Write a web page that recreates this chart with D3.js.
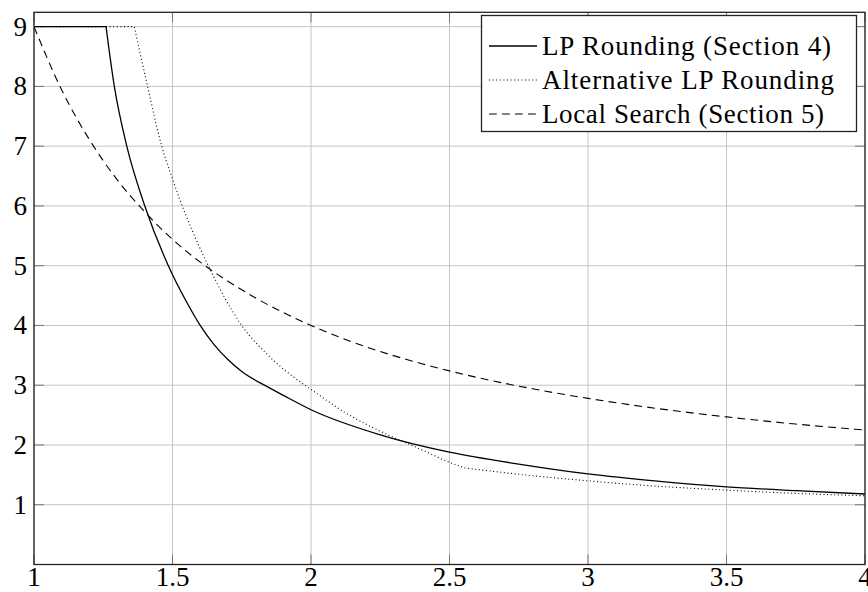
<!DOCTYPE html>
<html>
<head>
<meta charset="utf-8">
<script src="https://cdn.jsdelivr.net/npm/d3@7"></script>
<style>
  body { margin: 0; background: #fff; }
</style>
</head>
<body>
<div id="chart"></div>
<script>
// values
const lpX = [1, 1.26, 1.29, 1.335, 1.4, 1.485, 1.55, 1.6, 1.65, 1.7, 1.75, 1.816, 1.9, 2, 2.25, 2.5, 2.75, 3, 3.25, 3.5, 3.75, 4];
const lpY = [9, 9, 8, 7, 6, 5, 4.4, 4, 3.68, 3.43, 3.23, 3.04, 2.83, 2.59, 2.17, 1.88, 1.68, 1.515, 1.395, 1.3, 1.235, 1.18];
const lpBends = [1, 11];

const altX = [1, 1.362, 1.41, 1.461, 1.5, 1.527, 1.57, 1.629, 1.75, 1.85, 1.978, 2, 2.12, 2.25, 2.4, 2.5, 2.556, 2.75, 3, 3.25, 3.5, 3.75, 4];
const altY = [9, 9, 8, 7, 6.45, 6.1, 5.6, 5, 4, 3.48, 3, 2.93, 2.55, 2.23, 1.92, 1.71, 1.615, 1.51, 1.4, 1.31, 1.245, 1.19, 1.15];
const altBends = [1, 16];

const lsX = [1, 1.1, 1.2, 1.3, 1.4, 1.5, 1.6, 1.7, 1.8, 2, 2.2, 2.4, 2.6, 2.8, 3, 3.25, 3.5, 3.75, 4];
const lsY = [9, 7.94, 7.11, 6.44, 5.9, 5.44, 5.06, 4.74, 4.46, 4, 3.64, 3.36, 3.13, 2.94, 2.78, 2.61, 2.47, 2.35, 2.25];
const lsBends = [];

const xTicks = [1, 1.5, 2, 2.5, 3, 3.5, 4];
const yTicks = [1, 2, 3, 4, 5, 6, 7, 8, 9];

const series = [
    { name: "LP Rounding (Section 4)", xs: lpX, ys: lpY, bends: lpBends, dash: null, textW: 289 },
    { name: "Alternative LP Rounding", xs: altX, ys: altY, bends: altBends, dash: "1,2.6", textW: 292 },
    { name: "Local Search (Section 5)", xs: lsX, ys: lsY, bends: lsBends, dash: "7.8,5.2", textW: 282 }
];

const width = 868,
    height = 592,
    plot = { left: 34, right: 865, top: 12.3, bottom: 564.5 };
const serif = "Liberation Serif";

const xScale = d3.scaleLinear().domain([1, 4]).range([plot.left, plot.right]);
const yScale = d3.scaleLinear().domain([0, 9.24]).range([plot.bottom, plot.top]);

const svg = d3.select("#chart").append("svg")
    .attr("width", width)
    .attr("height", height);

svg.append("defs").append("clipPath")
    .attr("id", "clip")
    .append("rect")
    .attr("x", plot.left)
    .attr("y", plot.top)
    .attr("width", plot.right - plot.left)
    .attr("height", plot.bottom - plot.top);

// grid
svg.append("g")
    .selectAll("line")
    .data(xTicks)
    .enter().append("line")
    .attr("x1", d => xScale(d)).attr("x2", d => xScale(d))
    .attr("y1", plot.top).attr("y2", plot.bottom)
    .attr("stroke", "#c4c4c4").attr("stroke-width", 1);

svg.append("g")
    .selectAll("line")
    .data(yTicks)
    .enter().append("line")
    .attr("x1", plot.left).attr("x2", plot.right)
    .attr("y1", d => yScale(d)).attr("y2", d => yScale(d))
    .attr("stroke", "#c4c4c4").attr("stroke-width", 1);

// small tick marks inside the box
const tickLen = 10;
[plot.bottom, plot.top].forEach(y0 => {
    svg.append("g")
        .selectAll("line")
        .data(xTicks)
        .enter().append("line")
        .attr("x1", d => xScale(d)).attr("x2", d => xScale(d))
        .attr("y1", y0).attr("y2", y0 === plot.top ? y0 + tickLen : y0 - tickLen)
        .attr("stroke", "#777");
});
[plot.left, plot.right].forEach(x0 => {
    svg.append("g")
        .selectAll("line")
        .data(yTicks)
        .enter().append("line")
        .attr("x1", x0).attr("x2", x0 === plot.left ? x0 + tickLen : x0 - tickLen)
        .attr("y1", d => yScale(d)).attr("y2", d => yScale(d))
        .attr("stroke", "#777");
});

// curves: smooth pieces joined at the sharp bends
const line = d3.line()
    .x(d => xScale(d[0]))
    .y(d => yScale(d[1]))
    .curve(d3.curveMonotoneX);

series.forEach(s => {
    const pts = s.xs.map((x, i) => [x, s.ys[i]]);
    const cuts = [0, ...s.bends, pts.length - 1];
    let d = "";
    for (let k = 0; k < cuts.length - 1; k++) {
        const seg = line(pts.slice(cuts[k], cuts[k + 1] + 1));
        d += k === 0 ? seg : "L" + seg.slice(1);
    }
    svg.append("path")
        .attr("clip-path", "url(#clip)")
        .attr("fill", "none")
        .attr("stroke", "#000")
        .attr("stroke-width", s.dash ? 1.1 : 1.3)
        .attr("stroke-dasharray", s.dash)
        .attr("d", d);
});

// axis box
svg.append("rect")
    .attr("x", plot.left)
    .attr("y", plot.top)
    .attr("width", plot.right - plot.left)
    .attr("height", plot.bottom - plot.top)
    .attr("fill", "none")
    .attr("stroke", "#222")
    .attr("stroke-width", 1.3);

// tick labels
svg.append("g")
    .selectAll("text")
    .data(xTicks)
    .enter().append("text")
    .attr("x", d => xScale(d))
    .attr("y", 586)
    .attr("text-anchor", "middle")
    .attr("font-family", serif)
    .attr("font-size", 27)
    .text(d => d);

svg.append("g")
    .selectAll("text")
    .data(yTicks)
    .enter().append("text")
    .attr("x", 27)
    .attr("y", d => yScale(d) + 9)
    .attr("text-anchor", "end")
    .attr("font-family", serif)
    .attr("font-size", 27)
    .text(d => d);

// legend
const legend = svg.append("g");
legend.append("rect")
    .attr("x", 481.5)
    .attr("y", 15.5)
    .attr("width", 375)
    .attr("height", 116)
    .attr("fill", "#fff")
    .attr("stroke", "#222")
    .attr("stroke-width", 1.3);

series.forEach((s, i) => {
    const cy = 46 + i * 34;
    legend.append("line")
        .attr("x1", 489).attr("x2", 537)
        .attr("y1", cy).attr("y2", cy)
        .attr("stroke", "#000")
        .attr("stroke-width", s.dash ? 1.1 : 1.3)
        .attr("stroke-dasharray", s.dash);
    legend.append("text")
        .attr("x", 542)
        .attr("y", cy + 9)
        .attr("font-family", serif)
        .attr("font-size", 27)
        .attr("textLength", s.textW)
        .attr("lengthAdjust", "spacing")
        .text(s.name);
});
</script>
</body>
</html>
